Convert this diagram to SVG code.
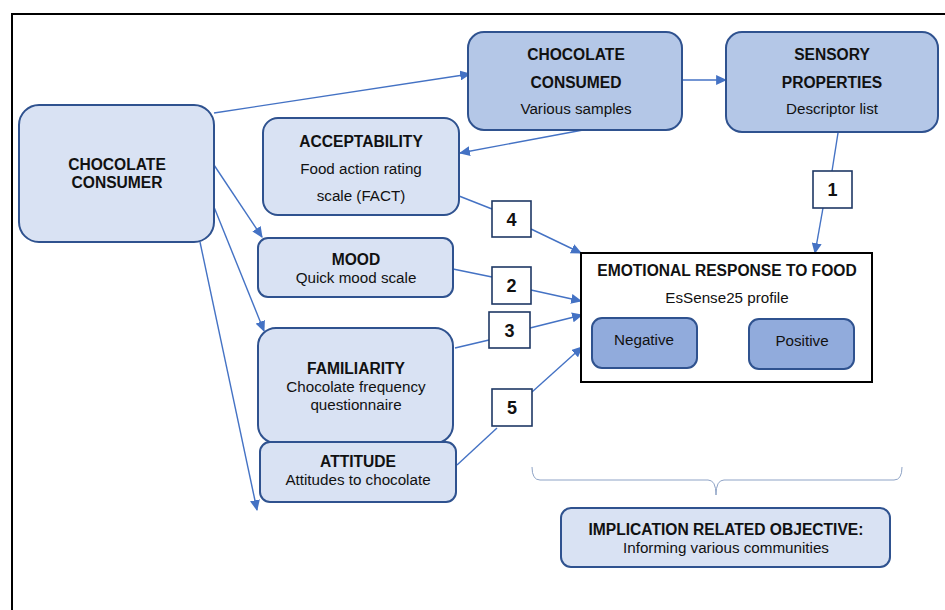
<svg xmlns="http://www.w3.org/2000/svg" width="945" height="610" viewBox="0 0 945 610">
<defs>
<style>
text{font-family:"Liberation Sans",Arial,sans-serif;fill:#111;text-anchor:middle}
.b{font-weight:bold;font-size:15.6px}
.n{font-size:15.2px}
.lt{fill:#d9e2f3;stroke:#2f528f;stroke-width:2}
.dk{fill:#b4c7e7;stroke:#2f528f;stroke-width:2}
.md{fill:#91abdc;stroke:#2f528f;stroke-width:2}
.num{fill:#fff;stroke:#1f3864;stroke-width:1.6}
.c{fill:none;stroke:#4472c4;stroke-width:1.4}
.ca{fill:none;stroke:#4472c4;stroke-width:1.4;marker-end:url(#ah)}
.nb{font-weight:bold;font-size:18px}
</style>
<marker id="ah" viewBox="0 0 10 10" refX="9" refY="5" markerWidth="11" markerHeight="10" markerUnits="userSpaceOnUse" orient="auto" preserveAspectRatio="none">
<path d="M0,0 L10,5 L0,10 z" fill="#4472c4"/>
</marker>
</defs>
<rect width="945" height="610" fill="#fff"/>
<polyline points="12,610 12,14 945,14" fill="none" stroke="#000" stroke-width="2"/>

<g id="connectors">
<line class="ca" x1="214" y1="113" x2="470" y2="74"/>
<line class="ca" x1="682" y1="80" x2="726" y2="80"/>
<line class="ca" x1="583" y1="130" x2="460" y2="153"/>
<line class="c" x1="838" y1="133" x2="832" y2="171"/>
<line class="ca" x1="823" y1="208" x2="815" y2="253"/>
<line class="c" x1="459" y1="196" x2="492" y2="209"/>
<line class="ca" x1="531" y1="229" x2="581" y2="253"/>
<line class="c" x1="453" y1="269" x2="492" y2="277"/>
<line class="ca" x1="531" y1="290" x2="581" y2="301"/>
<line class="c" x1="455" y1="348" x2="489" y2="340"/>
<line class="ca" x1="530" y1="328" x2="582" y2="315"/>
<line class="c" x1="457" y1="465" x2="497" y2="428"/>
<line class="ca" x1="532" y1="392" x2="582" y2="347"/>
<line class="ca" x1="214" y1="165" x2="262" y2="237"/>
<line class="ca" x1="214" y1="207" x2="264" y2="331"/>
<line class="ca" x1="200" y1="242" x2="257" y2="510"/>
<path d="M532,467 Q532,480 540,480 L708,480 Q716,480 716,495 Q716,480 724,480 L894,480 Q902,480 902,467" fill="none" stroke-width="1" stroke="#8ea3c6"/>
</g>

<g id="consumer">
<rect class="lt" x="19" y="105" width="195" height="137" rx="20"/>
<text class="b" x="117" y="170">CHOCOLATE</text>
<text class="b" x="117" y="188">CONSUMER</text>
</g>

<g id="consumed">
<rect class="dk" x="468" y="32" width="214" height="98" rx="16"/>
<text class="b" x="576" y="60">CHOCOLATE</text>
<text class="b" x="576" y="88">CONSUMED</text>
<text class="n" x="576" y="114">Various samples</text>
</g>

<g id="sensory">
<rect class="dk" x="726" y="32" width="212" height="100" rx="16"/>
<text class="b" x="832" y="60">SENSORY</text>
<text class="b" x="832" y="88">PROPERTIES</text>
<text class="n" x="832" y="114">Descriptor list</text>
</g>

<g id="acceptability">
<rect class="lt" x="263" y="118" width="196" height="97" rx="15"/>
<text class="b" x="361" y="147">ACCEPTABILITY</text>
<text class="n" x="361" y="174">Food action rating</text>
<text class="n" x="361" y="201">scale (FACT)</text>
</g>

<g id="mood">
<rect class="lt" x="258" y="238" width="195" height="59" rx="10"/>
<text class="b" x="356" y="265">MOOD</text>
<text class="n" x="356" y="283">Quick mood scale</text>
</g>

<g id="familiarity">
<rect class="lt" x="258" y="328" width="195" height="115" rx="18"/>
<text class="b" x="356" y="374">FAMILIARITY</text>
<text class="n" x="356" y="392">Chocolate frequency</text>
<text class="n" x="356" y="410">questionnaire</text>
</g>

<g id="attitude">
<rect class="lt" x="260" y="442" width="196" height="60" rx="10"/>
<text class="b" x="358" y="467">ATTITUDE</text>
<text class="n" x="358" y="485">Attitudes to chocolate</text>
</g>

<g id="label1"><rect class="num" x="813" y="171" width="39" height="37"/><text class="nb" x="832.5" y="196">1</text></g>
<g id="label4"><rect class="num" x="492" y="201" width="39" height="36"/><text class="nb" x="511.5" y="226">4</text></g>
<g id="label2"><rect class="num" x="492" y="267" width="39" height="37"/><text class="nb" x="511.5" y="292">2</text></g>
<g id="label3"><rect class="num" x="489" y="312" width="41" height="36"/><text class="nb" x="509.5" y="337">3</text></g>
<g id="label5"><rect class="num" x="492" y="389" width="40" height="37"/><text class="nb" x="512" y="414">5</text></g>

<g id="emotional">
<rect x="581" y="253" width="291" height="129" fill="#fff" stroke="#000" stroke-width="2"/>
<text class="b" x="727" y="276">EMOTIONAL RESPONSE TO FOOD</text>
<text class="n" x="727" y="303">EsSense25 profile</text>
</g>
<g id="negative">
<rect class="md" x="592" y="318" width="105" height="50" rx="10"/>
<text class="n" x="644" y="345">Negative</text>
</g>
<g id="positive">
<rect class="md" x="749" y="319" width="105" height="50" rx="10"/>
<text class="n" x="802" y="346">Positive</text>
</g>

<g id="implication">
<rect class="lt" x="561" y="508" width="329" height="59" rx="10"/>
<text class="b" x="726" y="535">IMPLICATION RELATED OBJECTIVE:</text>
<text class="n" x="726" y="553">Informing various communities</text>
</g>
</svg>
